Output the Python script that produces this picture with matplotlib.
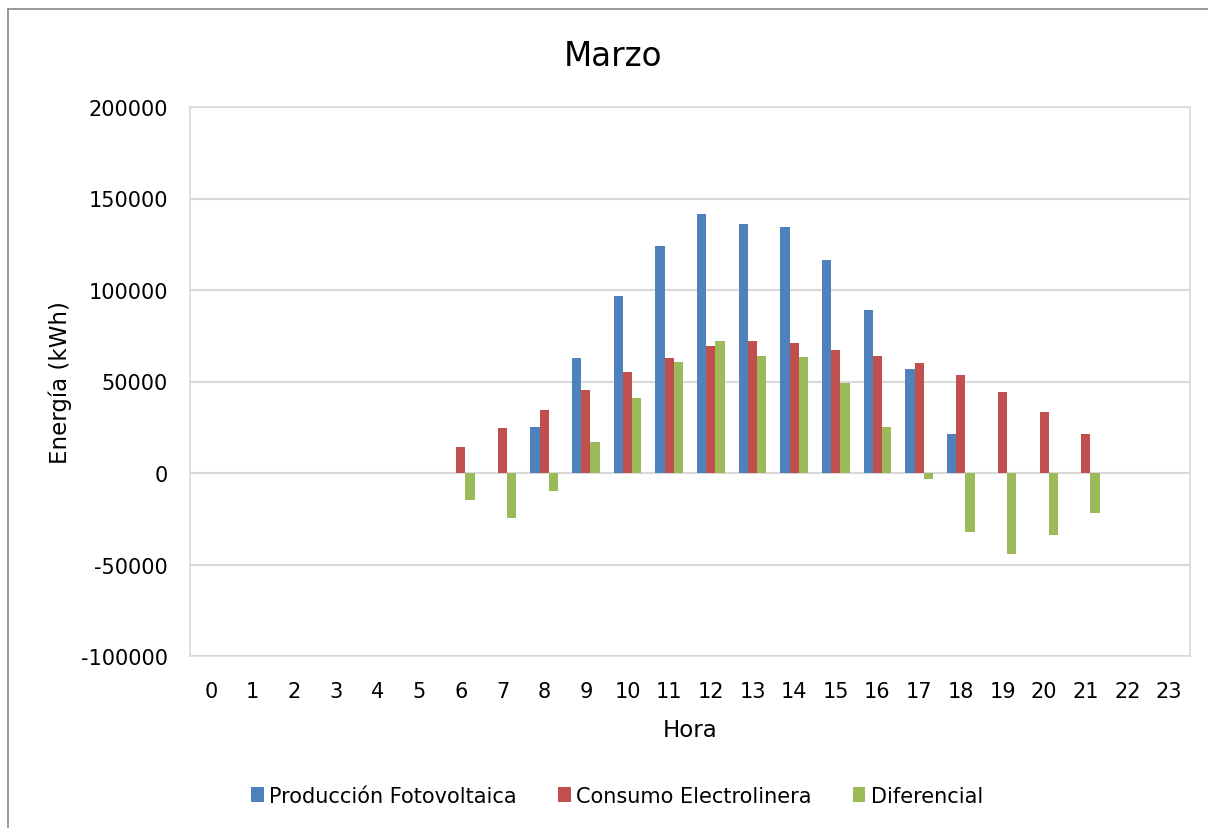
import matplotlib
matplotlib.use("Agg")
import matplotlib.pyplot as plt
import numpy as np
from matplotlib.lines import Line2D
from matplotlib.patches import Patch

hours = [str(h) for h in range(24)]
produccion = [0, 0, 0, 0, 0, 0, 0, 0, 25250, 62750, 96900, 123800, 141800, 136300,
              134500, 116200, 89300, 56700, 21400, 0, 0, 0, 0, 0]
consumo = [0, 0, 0, 0, 0, 0, 14300, 24700, 34600, 45600, 55450, 62900, 69500, 72200,
           70800, 67000, 64000, 60000, 53400, 44100, 33500, 21200, 0, 0]
diferencial = [0, 0, 0, 0, 0, 0, -15000, -24700, -9700, 17200, 41200, 60900, 71900, 63800,
               63500, 49000, 25000, -3300, -32400, -44500, -33900, -21800, 0, 0]
series_names = ["Producción Fotovoltaica", "Consumo Electrolinera", "Diferencial"]
colors = ["#4F81BD", "#C0504D", "#9BBB59"]
yticks = [-100000, -50000, 0, 50000, 100000, 150000, 200000]

plt.rcParams['font.family'] = ['DejaVu Sans']
fig = plt.figure(figsize=(12.08, 8.29), dpi=100)
W, H = 1208, 829
ax = fig.add_axes([190 / W, 1 - 657 / H, 1000 / W, (657 - 108) / H])

x = np.arange(len(hours))
w = 0.22
for i, (vals, c) in enumerate(zip([produccion, consumo, diferencial], colors)):
    ax.bar(x + (i - 1) * w, vals, width=w, color=c, edgecolor='none', zorder=3)

ax.set_xlim(-0.5, 23.5)
ax.set_ylim(-100000, 200000)
ax.set_yticks(yticks)
ax.set_yticklabels([str(v) for v in yticks], fontsize=15)
ax.set_xticks(x)
ax.set_xticklabels(hours, fontsize=15)
ax.tick_params(axis='both', length=0)
ax.tick_params(axis='x', pad=18)
ax.tick_params(axis='y', pad=16)
ax.grid(axis='y', color='#D9D9D9', linewidth=1.5, zorder=0)
for s in ax.spines.values():
    s.set_color('#D9D9D9')
    s.set_linewidth(1.2)

ax.set_xlabel("Hora", fontsize=16.5, labelpad=12)
ax.set_ylabel("Energía (kWh)", fontsize=16.5, labelpad=6)
fig.text(613 / W, 1 - 56 / H, "Marzo", fontsize=23.5, ha='center', va='center')

handles = [Patch(facecolor=c, edgecolor='none') for c in colors]
fig.legend(handles, series_names, loc='center', bbox_to_anchor=(617 / W, 1 - 797 / H),
           ncol=3, frameon=False, fontsize=15, handlelength=0.6, handleheight=0.75,
           handletextpad=0.25, columnspacing=2.0)

# outer chart border (left and top visible)
fig.add_artist(Line2D([8 / W, 8 / W], [0, 1 - 10 / H], color='#888888', linewidth=1.2))
fig.add_artist(Line2D([8 / W, 1], [1 - 10 / H, 1 - 10 / H], color='#888888', linewidth=1.2))

fig.savefig("out.png", dpi=100)
